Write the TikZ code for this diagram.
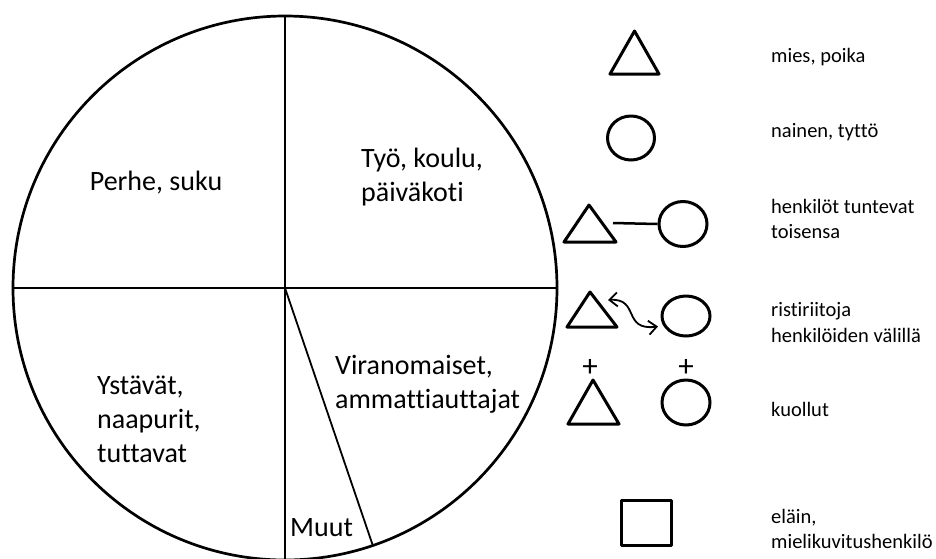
\documentclass[tikz,border=0pt]{standalone}
\usepackage{fontspec}
\setmainfont{Carlito}[Ligatures={NoCommon}]
\usetikzlibrary{arrows.meta,shapes.geometric}
\tikzset{barbtip/.tip={Straight Barb[length=8pt,width=14pt]}}
\begin{document}
\begin{tikzpicture}[x=1pt,y=-1pt,
  mainlbl/.style={font=\fontsize{28}{34}\selectfont, align=left, inner sep=0pt, anchor=base west},
  leglbl/.style={font=\fontsize{20.5}{25.5}\selectfont, align=left, inner sep=0pt, anchor=base west},
  sym/.style={line width=3pt, line join=round},
  plusmark/.style={font=\fontsize{31}{31}\selectfont, inner sep=0pt}]
\useasboundingbox (0,0) rectangle (936,558);
% main circle
\coordinate (c) at (285,288);
\coordinate (top) at (285,16);
\coordinate (bot) at (285,560);
\coordinate (lft) at (13,288);
\coordinate (rgt) at (557,288);
\coordinate (dg) at (373,546);
\draw[line width=2.2pt] (top) -- (bot);
\draw[line width=2.2pt] (lft) -- (rgt);
\draw[line width=1.8pt] (c) -- (dg);
\draw[line width=2.7pt] (c) circle[radius=272pt];
% sector labels (base anchor = baseline of last line)
\node[mainlbl, anchor=base] (perhe) at (156,190) {Perhe, suku};
\node[mainlbl] (tyo) at (361,201) {Työ, koulu,\\päiväkoti};
\node[mainlbl] (viran) at (335,408) {Viranomaiset,\\ammattiauttajat};
\node[mainlbl] (ystavat) at (97,462) {Ystävät,\\naapurit,\\tuttavat};
\node[mainlbl] (muut) at (290,536) {Muut};
% legend symbols
\draw[sym] (610,74) -- (634.5,31) -- (659,74) -- cycle;
\draw[sym] (631,138) ellipse[x radius=23.5pt, y radius=22pt];
\draw[sym] (564,242) -- (589,205) -- (616,242) -- cycle;
\node[draw, sym, ellipse, minimum width=48pt, minimum height=45pt, inner sep=0pt] (w3) at (683,224) {};
\coordinate (l3) at (613,223);
\draw[line width=2.5pt] (l3) -- (w3.west);
\draw[sym] (567,327) -- (590,292) -- (617,327) -- cycle;
\draw[sym] (686,316) ellipse[x radius=24pt, y radius=20pt];
\coordinate (a4s) at (608,300);
\coordinate (a4e) at (658,326.5);
\draw[line width=1.8pt, barbtip-barbtip] (a4s) .. controls (640,298) and (622,331) .. (a4e);
\draw[sym] (568,424) -- (593,380) -- (619,424) -- cycle;
\draw[sym] (686,402.5) ellipse[x radius=24pt, y radius=22.5pt];
\node[plusmark] (p1) at (590,368) {+};
\node[plusmark] (p2) at (686,368) {+};
\draw[sym] (621,500) rectangle (671,545);
% legend labels
\node[leglbl] (l1) at (771,62) {mies, poika};
\node[leglbl] (l2) at (771,137.5) {nainen, tyttö};
\node[leglbl] (l3t) at (771,238.5) {henkilöt tuntevat\\toisensa};
\node[leglbl] (l4t) at (771,342) {ristiriitoja\\henkilöiden välillä};
\node[leglbl] (l5) at (771,416.5) {kuollut};
\node[leglbl] (l6) at (771,548.5) {eläin,\\mielikuvitushenkilö};
\end{tikzpicture}
\end{document}
